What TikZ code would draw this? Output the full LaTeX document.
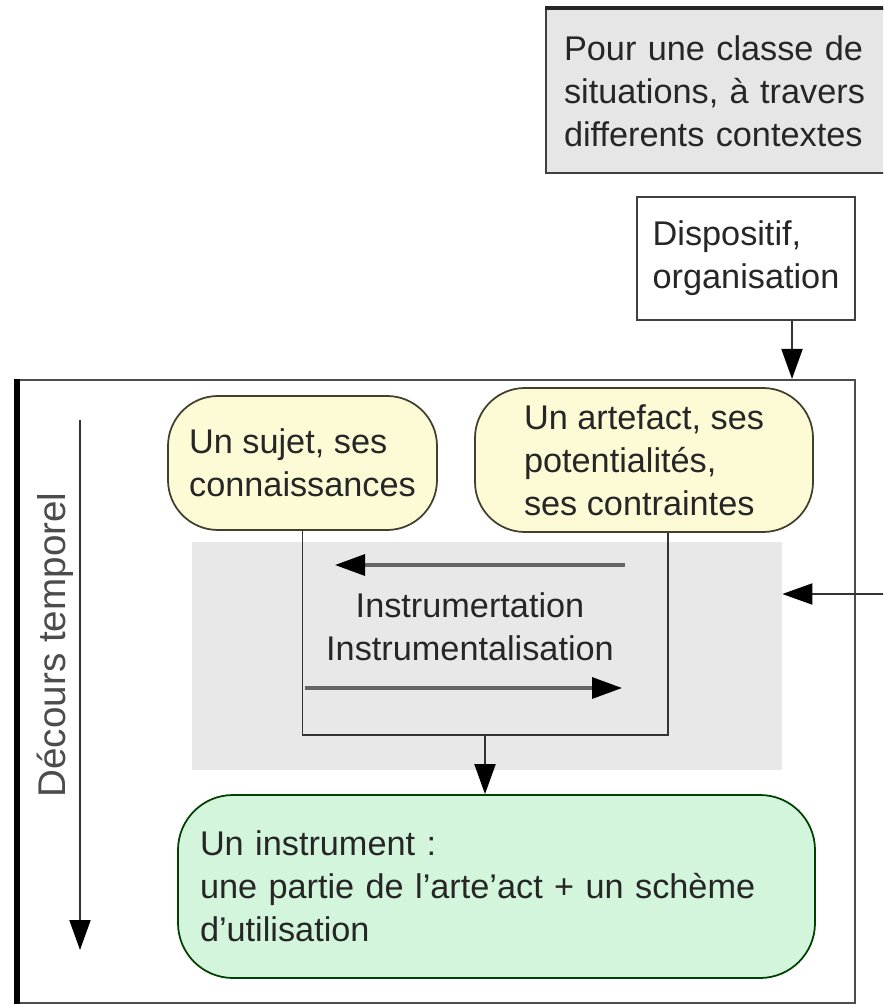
\documentclass[tikz,border=0pt]{standalone}
\usepackage{fontspec}
\setmainfont{Liberation Sans}
\usetikzlibrary{arrows.meta}
\definecolor{jaune}{HTML}{FDFBD6}
\definecolor{vert}{HTML}{D2F5DC}
\definecolor{gris}{HTML}{E6E6E6}
\definecolor{zonegris}{HTML}{E8E8E8}

\begin{document}
\begin{tikzpicture}[>={Triangle[length=6mm,width=4.2mm,color=black]},
	texte/.style={font=\fontsize{19.5}{24.5}\selectfont,text=black!85,align=left},
	boite/.style={texte,draw=black!75,line width=1.2pt},
	bulle/.style={texte,draw=olive!30!black,fill=jaune,rounded corners=1cm,line width=1pt},
	ligne/.style={line width=1.1pt,draw=black!80},
	fleche/.style={->,ligne},
	flechegris/.style={->,line width=1.8pt,draw=black!60}]
	\clip (0,0) rectangle (17.66,-20.1);
	\node[boite,fill=gris,anchor=north west,inner xsep=.36cm,text width=6.6cm,minimum height=3.28cm] (classe) at (10.9,-0.16) {Pour une classe de\\situations, à travers\\differents contextes};
	\draw[line width=2.4pt,black!85] (classe.north west) -- (classe.north east);
	\node[boite,fill=white,minimum width=4.36cm,minimum height=2.46cm] (disp) at (14.92,-5.17) {Dispositif,\\organisation};
	\node[draw=black!70,line width=1.2pt,minimum width=16.74cm,minimum height=12.46cm] (cadre) at (8.73,-13.83) {};
	\draw[line width=3pt] (cadre.north west) -- (cadre.south west);
	\draw[fleche] ([xshift=.92cm]disp.south) -- ([xshift=.92cm]disp.south |- cadre.north);
	\node[fill=zonegris,minimum width=11.8cm,minimum height=4.56cm] (zone) at (9.74,-13.12) {};
	\node[bulle,minimum width=5.38cm,minimum height=2.68cm] (sujet) at (6.05,-9.26) {Un sujet, ses\\connaissances};
	\node[bulle,minimum width=6.76cm,minimum height=2.88cm] (artefact) at (12.88,-9.2) {Un artefact, ses\\potentialités,\\ses contraintes};
	\node[texte,align=center] (instr) at (9.4,-12.54) {Instrumertation\\Instrumentalisation};
	\node[texte,draw=green!25!black,fill=vert,rounded corners=1.1cm,line width=1pt,inner xsep=.44cm,text width=11.86cm,minimum height=3.66cm] (instrument) at (9.93,-17.73) {Un instrument :\\une partie de l'arte'act + un schème\\d'utilisation};
	\node[texte,text=black!70,font=\fontsize{22}{26}\selectfont,rotate=90] (temps) at (1.1,-12.9) {Décours temporel};
	\coordinate (t0) at (1.6,-8.4);
	\coordinate (t1) at (1.6,-19.0);
	\coordinate (g1) at (12.5,-11.3);
	\coordinate (g2) at (6.7,-11.3);
	\coordinate (d1) at (6.1,-13.76);
	\coordinate (d2) at (12.44,-13.76);
	\coordinate (bas) at (9.7,-14.7);
	\coordinate (ext) at (18,-11.88);
	\draw[fleche] (t0) -- (t1);
	\draw[flechegris] (g1) -- (g2);
	\draw[flechegris] (d1) -- (d2);
	\draw[ligne] (sujet.south) |- (bas) -| ([xshift=.48cm]artefact.south);
	\draw[fleche] (bas) -- (bas |- instrument.north);
	\draw[fleche] (ext) -- (ext -| zone.east);
\end{tikzpicture}
\end{document}
